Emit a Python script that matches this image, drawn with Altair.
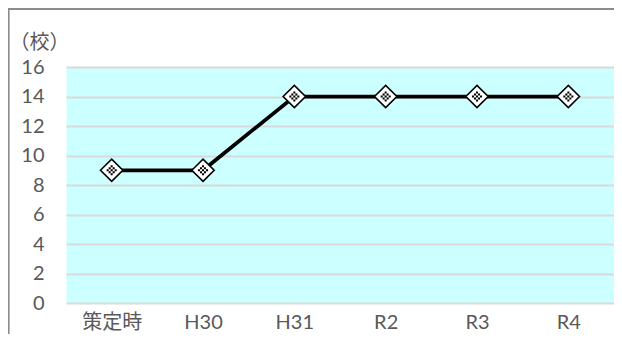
import altair as alt
import pandas as pd

categories = ["策定時", "H30", "H31", "R2", "R3", "R4"]
values = [9, 9, 14, 14, 14, 14]
y_ticks = [0, 2, 4, 6, 8, 10, 12, 14, 16]
y_title = "（校）"

df = pd.DataFrame({"cat": categories, "val": values})

FONT = "Lato, 'Noto Sans CJK JP', sans-serif"
GRAY = "#595959"


def checker_path(cell=0.18, limit=0.62):
    parts = []
    n = int(1 / cell) + 1
    for i in range(-n, n + 1):
        for j in range(-n, n + 1):
            if (i + j) % 2:
                continue
            cx, cy = i * cell, j * cell
            if abs(cx) + abs(cy) <= limit:
                x0, y0 = cx - cell / 2, cy - cell / 2
                parts.append(f"M{x0:.3f},{y0:.3f}h{cell:.3f}v{cell:.3f}h{-cell:.3f}Z")
    return "".join(parts)


x_enc = alt.X(
    "cat:N",
    sort=categories,
    scale=alt.Scale(type="point", padding=0.5),
    axis=alt.Axis(
        title=None, labelAngle=0, domain=False, ticks=False, grid=False,
        labelPadding=9, labelFontSize=20, labelColor=GRAY, labelFont=FONT,
    ),
)
y_enc = alt.Y(
    "val:Q",
    scale=alt.Scale(domain=[0, 16], nice=False),
    axis=alt.Axis(
        values=y_ticks, title=y_title, titleAngle=0, titleAlign="left",
        titleBaseline="middle", titleX=-57, titleY=-25, titleFontSize=20,
        titleFontWeight="normal", titleColor=GRAY, titleFont=FONT,
        domain=False, ticks=False, labelPadding=22, labelFontSize=20,
        labelColor=GRAY, labelFont=FONT, grid=True, gridColor="#D9D9D9",
        gridWidth=2,
    ),
)

base = alt.Chart(df).encode(x=x_enc, y=y_enc)

line = base.mark_line(color="black", strokeWidth=3.75)
diamond = base.mark_point(
    shape="diamond", size=500, filled=True, fill="white",
    stroke="black", strokeWidth=1.6, opacity=1,
)
pattern = base.mark_point(
    shape=checker_path(), size=500, filled=True, fill="black",
    strokeWidth=0, opacity=1,
)

frame = alt.Chart(df).mark_rect(
    fill="transparent", stroke="#8C8C8C", strokeWidth=1.3
).encode(
    x=alt.value(-57.5), x2=alt.value(600), y=alt.value(-58), y2=alt.value(300)
)

chart = alt.layer(frame, line, diamond, pattern).properties(
    width=548, height=236,
    autosize=alt.AutoSizeParams(type="none"),
    padding={"left": 58, "top": 59, "right": 0, "bottom": 31},
).configure_view(
    fill="#CCFFFF", stroke="transparent"
)

chart.save("out.html", embed_options={"renderer": "svg", "actions": False})
